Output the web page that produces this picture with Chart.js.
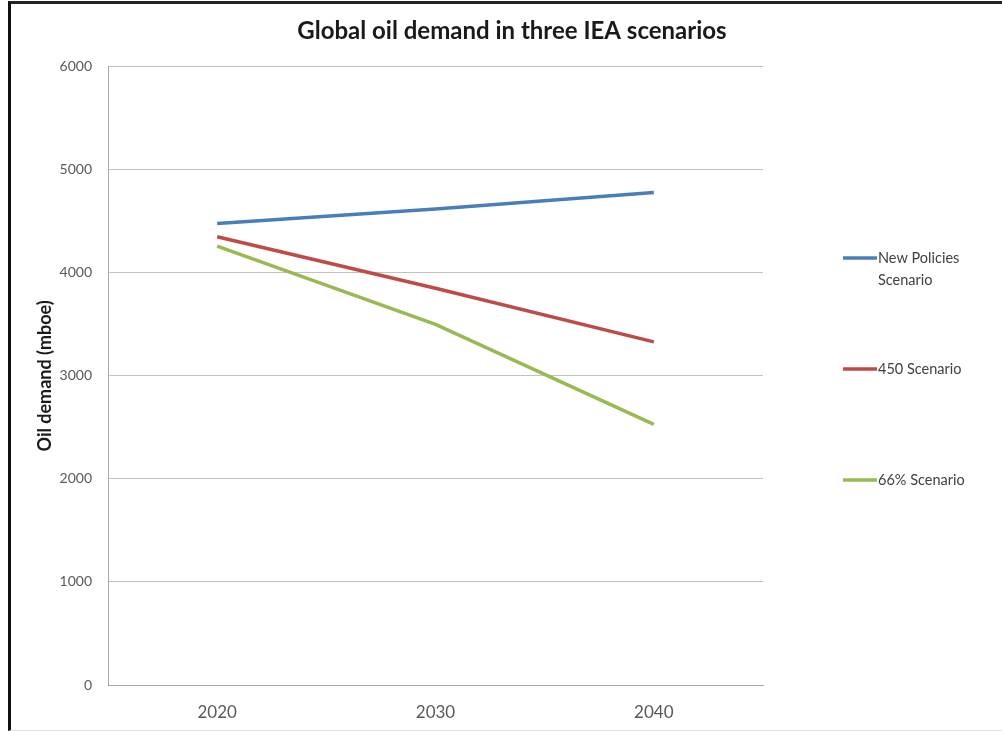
<!DOCTYPE html>
<html>
<head>
<meta charset="utf-8">
<script src="https://cdn.jsdelivr.net/npm/chart.js@4.4.1/dist/chart.umd.min.js"></script>
<style>
  html, body { margin: 0; padding: 0; background: #fff; }
  #wrap { position: relative; width: 1002px; height: 731px; overflow: hidden; }
  #frame {
    position: absolute; left: 8px; top: 1px; width: 1100px; height: 726px;
    border-left: 3px solid #111; border-top: 3px solid #222; border-bottom: 1px solid #e2e2e2;
    pointer-events: none;
  }
</style>
</head>
<body>
<div id="wrap">
  <canvas id="oilChart"></canvas>
  <div id="frame"></div>
</div>
<script>
const years = ['2020', '2030', '2040'];
const newPolicies = [4480, 4620, 4780];
const scenario450 = [4350, 3850, 3330];
const scenario66 = [4260, 3500, 2530];
const seriesNames = ['New Policies Scenario', '450 Scenario', '66% Scenario'];

const fontFamily = "Lato, 'Open Sans', 'Liberation Sans', sans-serif";
const lineColors = ['#4A7EBB', '#BE4B48', '#98B954'];

// legend drawn at the right, Excel-style (line sample touching the text)
const sideLegend = {
    id: 'sideLegend',
    afterDraw(chart) {
        const { ctx, chartArea } = chart;
        const x0 = chartArea.right + 80;
        const lineLen = 34;
        const textX = x0 + lineLen + 1;
        const maxW = 112;
        const lineH = 22;
        const spacing = 111;
        const midY = (chartArea.top + chartArea.bottom) / 2;
        ctx.save();
        ctx.font = '14.5px ' + fontFamily;
        ctx.textBaseline = 'middle';
        ctx.textAlign = 'left';
        chart.data.datasets.forEach((ds, i) => {
            const y = midY - 7 + (i - 1) * spacing;
            ctx.strokeStyle = ds.borderColor;
            ctx.lineWidth = ds.borderWidth;
            ctx.beginPath();
            ctx.moveTo(x0, y);
            ctx.lineTo(x0 + lineLen, y);
            ctx.stroke();
            // word wrap
            const words = ds.label.split(' ');
            const lines = [];
            let cur = '';
            words.forEach(w => {
                const test = cur ? cur + ' ' + w : w;
                if (cur && ctx.measureText(test).width > maxW) {
                    lines.push(cur);
                    cur = w;
                } else {
                    cur = test;
                }
            });
            lines.push(cur);
            ctx.fillStyle = '#404040';
            lines.forEach((ln, k) => ctx.fillText(ln, textX, y + k * lineH));
        });
        ctx.restore();
    }
};

new Chart(document.getElementById('oilChart'), {
    type: 'line',
    data: {
        labels: years,
        datasets: [newPolicies, scenario450, scenario66].map((vals, i) => ({
            label: seriesNames[i],
            data: vals,
            borderColor: lineColors[i],
            backgroundColor: lineColors[i],
            borderWidth: 3.5,
            pointRadius: 0,
            tension: 0
        }))
    },
    options: {
        responsive: true,
        maintainAspectRatio: false,
        animation: false,
        layout: { padding: { left: 22, top: 0, right: 0, bottom: 0 } },
        plugins: {
            legend: { display: false },
            tooltip: { enabled: false },
            title: {
                display: true,
                text: 'Global oil demand in three IEA scenarios',
                color: '#1a1a1a',
                font: { family: fontFamily, size: 24, weight: 'bold' },
                padding: { top: 17, bottom: 21 }
            }
        },
        scales: {
            x: {
                offset: true,
                grid: { display: false, drawTicks: false },
                border: { display: true, color: '#A8A8A8', width: 1 },
                ticks: { color: '#595959', font: { family: fontFamily, size: 17 }, padding: 17 },
                afterFit(s) { s.height = 46; }
            },
            y: {
                min: 0,
                max: 6000,
                ticks: {
                    stepSize: 1000,
                    color: '#595959',
                    font: { family: fontFamily, size: 14 },
                    padding: 16,
                    callback: v => String(v)
                },
                grid: { color: '#C2C2C2', drawTicks: false },
                border: { display: true, color: '#A8A8A8', width: 1 },
                title: {
                    display: true,
                    text: 'Oil demand (mboe)',
                    color: '#1a1a1a',
                    font: { family: fontFamily, size: 18, weight: 'bold' },
                    padding: { top: 12, bottom: 4 }
                },
                afterFit(s) { s.width = 86; }
            },
            legendSpace: {
                type: 'linear',
                position: 'right',
                display: true,
                grid: { display: false, drawTicks: false },
                border: { display: false },
                ticks: { display: false },
                afterFit(s) { s.width = 239; }
            }
        }
    },
    plugins: [sideLegend]
});
</script>
</body>
</html>
